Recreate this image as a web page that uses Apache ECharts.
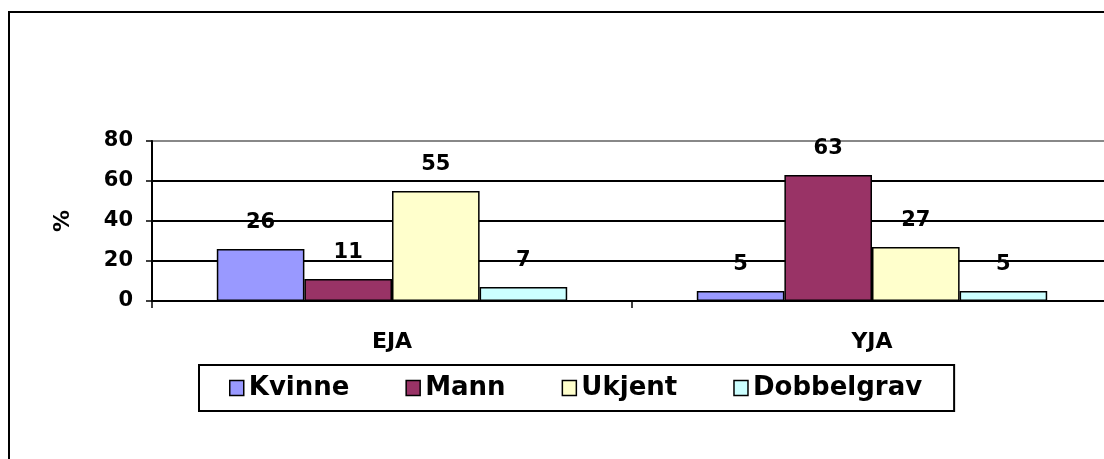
<!DOCTYPE html>
<html>
<head>
<meta charset="utf-8">
<script src="https://cdn.jsdelivr.net/npm/echarts@6/dist/echarts.min.js"></script>
<style>
  html, body { margin: 0; padding: 0; background: #fff; }
  #main { width: 1104px; height: 459px; }
</style>
</head>
<body>
<div id="main"></div>
<script>
// data
var categories = ['EJA', 'YJA'];
var kvinne = [26, 5];
var mann = [11, 63];
var ukjent = [55, 27];
var dobbelgrav = [7, 5];
var seriesNames = ['Kvinne', 'Mann', 'Ukjent', 'Dobbelgrav'];
var seriesColors = ['#9999FF', '#993366', '#FFFFCC', '#CCFFFF'];

var font = 'DejaVu Sans, sans-serif';

var chart = echarts.init(document.getElementById('main'));

function makeSeries(name, data, color) {
    return {
        name: name,
        type: 'bar',
        data: data,
        barGap: '0%',
        barCategoryGap: '27%',
        itemStyle: { color: color, borderColor: '#000', borderWidth: 1.5 },
        label: {
            show: true,
            position: 'top',
            distance: 16,
            color: '#000',
            fontFamily: font,
            fontWeight: 'bold',
            fontSize: 21
        },
        emphasis: { disabled: true }
    };
}

chart.setOption({
    animation: false,
    backgroundColor: '#fff',
    graphic: [{
        type: 'rect',
        shape: { x: 9, y: 12, width: 1200, height: 600 },
        style: { fill: null, stroke: '#000', lineWidth: 2 },
        z: 100
    }],
    // plot runs past the right edge of the picture
    grid: { left: 152, top: 141, width: 960, height: 160, outerBoundsMode: 'none' },
    legend: {
        left: 199,
        top: 365,
        data: seriesNames,
        icon: 'rect',
        itemWidth: 14,
        itemHeight: 15,
        itemGap: 56,
        padding: [10, 32, 10, 30],
        borderColor: '#000',
        borderWidth: 2,
        itemStyle: { borderColor: '#000', borderWidth: 1.5 },
        textStyle: {
            color: '#000',
            fontFamily: font,
            fontWeight: 'bold',
            fontSize: 26
        }
    },
    xAxis: {
        type: 'category',
        data: categories,
        axisLine: { lineStyle: { color: '#000', width: 2 } },
        axisTick: { show: true, length: 7, lineStyle: { color: '#000', width: 1.5 } },
        axisLabel: {
            color: '#000',
            fontFamily: font,
            fontWeight: 'bold',
            fontSize: 22,
            margin: 30
        }
    },
    yAxis: {
        type: 'value',
        min: 0,
        max: 80,
        interval: 20,
        name: '%',
        nameLocation: 'middle',
        nameRotate: 90,
        nameGap: 78,
        nameTextStyle: {
            color: '#000',
            fontFamily: font,
            fontWeight: 'bold',
            fontSize: 22
        },
        axisLine: { show: true, lineStyle: { color: '#000', width: 2 } },
        axisTick: { show: true, length: 6, lineStyle: { color: '#000', width: 1.5 } },
        axisLabel: {
            color: '#000',
            fontFamily: font,
            fontWeight: 'bold',
            fontSize: 21,
            margin: 19
        },
        splitLine: {
            show: true,
            lineStyle: { color: ['#000', '#000', '#000', '#000', '#888'], width: 2 }
        }
    },
    series: [
        makeSeries(seriesNames[0], kvinne, seriesColors[0]),
        makeSeries(seriesNames[1], mann, seriesColors[1]),
        makeSeries(seriesNames[2], ukjent, seriesColors[2]),
        makeSeries(seriesNames[3], dobbelgrav, seriesColors[3])
    ]
});
</script>
</body>
</html>
